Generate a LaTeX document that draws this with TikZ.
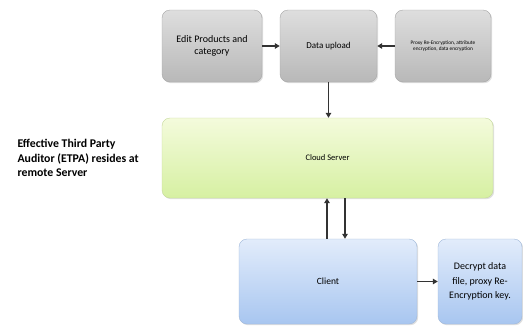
\documentclass[tikz,border=0pt]{standalone}
\usepackage{fontspec}
\setmainfont{Carlito}
\usetikzlibrary{arrows.meta,shadows}

\definecolor{grisHaut}{HTML}{DEDEDE}
\definecolor{grisBas}{HTML}{B8B8B8}
\definecolor{vertHaut}{HTML}{F4FBDC}
\definecolor{vertBas}{HTML}{D6F0A2}
\definecolor{bleuHaut}{HTML}{E2ECFB}
\definecolor{bleuBas}{HTML}{A8C6F0}
\definecolor{fleche}{HTML}{333333}

\tikzset{
  boite/.style={rounded corners=8pt, align=center, inner sep=2pt,
    drop shadow={opacity=0.25, shadow xshift=1.2pt, shadow yshift=-1.2pt}},
  boitegris/.style={boite, draw=gray!70, top color=grisHaut, bottom color=grisBas},
  boitevert/.style={boite, draw=vertBas!80!gray, top color=vertHaut, bottom color=vertBas},
  boitebleu/.style={boite, draw=bleuBas!80!gray, top color=bleuHaut, bottom color=bleuBas},
  fl/.style={draw=fleche, line width=1.8pt, -{Triangle[length=5pt,width=5.5pt]}}
}

\begin{document}
\begin{tikzpicture}[x=1pt, y=-1pt]
\useasboundingbox (0,0) rectangle (523,325);

% Ligne du haut
\node[boitegris, minimum width=100pt, minimum height=72pt, font=\fontsize{10}{12}\selectfont]
  (edit) at (212,46) {Edit Products and\\category};
\node[boitegris, minimum width=97pt, minimum height=72pt, font=\fontsize{9}{11}\selectfont]
  (upload) at (328.5,46) {Data upload};
\node[boitegris, minimum width=96pt, minimum height=72pt, font=\fontsize{5.3}{6.5}\selectfont]
  (proxy) at (443,46) {Proxy Re-Encryption, attribute\\encryption, data encryption};

% Serveur
\node[boitevert, minimum width=331pt, minimum height=80pt, font=\fontsize{8.5}{10}\selectfont]
  (cloud) at (327.5,158) {Cloud Server};
\node[anchor=west, align=left, font=\bfseries\fontsize{11.8}{14.5}\selectfont]
  (etpa) at (14,158) {Effective Third Party\\Auditor (ETPA) resides at\\remote Server};

% Client
\node[boitebleu, minimum width=178pt, minimum height=85pt, font=\fontsize{9.5}{11}\selectfont]
  (client) at (328,281.5) {Client};
\node[boitebleu, minimum width=84pt, minimum height=85pt, font=\fontsize{10}{14.5}\selectfont]
  (decrypt) at (480,281.5) {Decrypt data\\file, proxy Re-\\Encryption key.};

% Fleches
\draw[fl] (edit) -- (upload);
\draw[fl] (proxy) -- (upload);
\draw[fl] (upload.south) -- (upload.south |- cloud.north);
\draw[fl] ([xshift=-1pt]client.north) -- ([xshift=-1pt]client.north |- cloud.south);
\draw[fl] ([xshift=17pt]client.north |- cloud.south) -- ([xshift=17pt]client.north);
\draw[fl] (client) -- (decrypt);

\end{tikzpicture}
\end{document}
